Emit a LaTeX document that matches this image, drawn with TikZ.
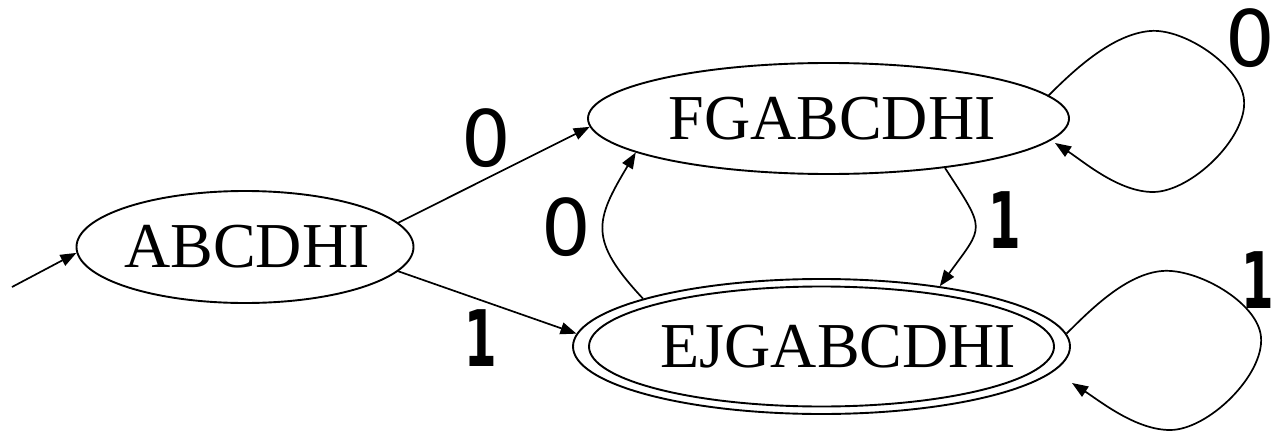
\documentclass[tikz,border=0pt]{standalone}
\usepackage{graphicx}
\usepackage{fontspec}
\setmainfont{Liberation Serif}
\newfontfamily\labelfont{DejaVu Sans}
\usetikzlibrary{shapes.geometric,arrows.meta}
\newcommand{\one}{\scalebox{0.6}[1]{\bfseries 1}}
\begin{document}
\begin{tikzpicture}[x=1pt,y=1pt,
  state/.style={ellipse, draw, line width=1.9pt, inner sep=0pt,
    font=\fontsize{64}{70}\selectfont},
  edge/.style={line width=1.7pt, -{Triangle[length=16pt,width=12pt]}},
  lbl/.style={inner sep=0pt, font=\labelfont\fontsize{78}{80}\selectfont}]
\useasboundingbox (0,0) rectangle (1276,432);
% states
\node[state, minimum width=337pt, minimum height=112pt] (A) at (245,185)
  {\makebox[0pt]{\hspace*{4pt}ABCDHI}};
\node[state, minimum width=481pt, minimum height=111pt] (F) at (828.5,313.5)
  {\makebox[0pt]{\hspace*{7pt}FGABCDHI}};
\node[state, minimum width=497pt, minimum height=135pt] (E) at (821.5,85.5)
  {\makebox[0pt]{\hspace*{34pt}EJGABCDHI}};
\draw[line width=1.9pt] (E.center) ellipse [x radius=232.5pt, y radius=60pt];
% free ends
\coordinate (start) at (12,145);
\coordinate (Floopend) at (1055,289);
\coordinate (Eloopend) at (1072,49);
% connectors
\draw[edge] (start) -- (A.182);
\draw[edge] (A.9) -- (F.182);
\draw[edge] (A.-9) -- (E.177);
\draw[edge] (E.165) to[out=133,in=-121,distance=80pt] (F.190);
\draw[edge] (F.-23) to[out=-57,in=54,distance=76pt] (E.27);
\draw[edge] (F.6) to[out=45,in=185,looseness=0.8] (1150,401)
  to[out=5,in=95,looseness=0.75] (1244,332)
  to[out=-85,in=0,looseness=0.75] (1153,240)
  to[out=180,in=-33,looseness=0.8] (Floopend);
\draw[edge] (E.3) to[out=45,in=185,looseness=0.8] (1162,161)
  to[out=5,in=95,looseness=0.75] (1261,95)
  to[out=-85,in=0,looseness=0.75] (1170,2)
  to[out=180,in=-33,looseness=0.8] (Eloopend);
% labels
\node[lbl] (l1) at (486,294) {0};
\node[lbl] (l2) at (566,205) {0};
\node[lbl] (l3) at (481,94) {\one};
\node[lbl] (l4) at (1005,212) {\one};
\node[lbl] (l5) at (1250,394) {0};
\node[lbl] (l6) at (1258,152) {\one};
\end{tikzpicture}
\end{document}
